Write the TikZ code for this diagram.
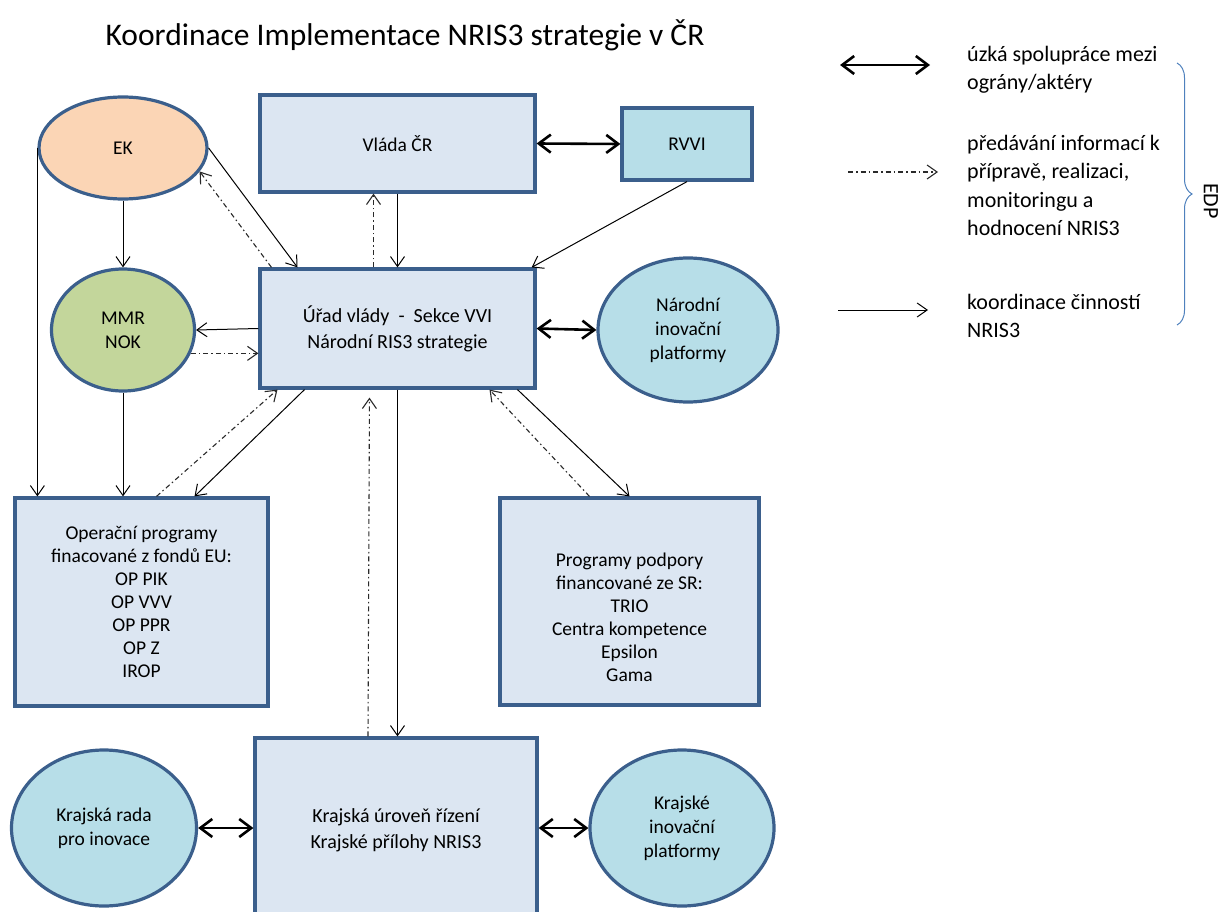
\documentclass[tikz,border=0pt]{standalone}
\usepackage{fontspec}
\setmainfont{Carlito}
\usetikzlibrary{arrows.meta,shapes.geometric,decorations.pathreplacing}
\definecolor{shapeline}{HTML}{3B5F8C}
\definecolor{boxfill}{HTML}{DCE6F2}
\definecolor{aquafill}{HTML}{B7DEE8}
\definecolor{ekfill}{HTML}{FBD5B5}
\definecolor{mmrfill}{HTML}{C3D69B}
\definecolor{bracecol}{HTML}{4F81BD}
\definecolor{infoline}{HTML}{2A2A2A}

\begin{document}
\begin{tikzpicture}[
  x=1pt, y=-1pt,
  box/.style={rectangle, draw=shapeline, line width=3.2pt, fill=boxfill, align=center, inner sep=2pt, font=\fontsize{19.5}{23}\selectfont},
  oval/.style={ellipse, draw=shapeline, line width=3.2pt, fill=aquafill, align=center, inner sep=1pt, font=\fontsize{19.5}{24}\selectfont},
  legend/.style={anchor=west, align=left, inner sep=0pt, font=\fontsize{22}{28.5}\selectfont},
  koord/.style={-{Straight Barb[length=10pt,width=14pt]}, line width=1pt},
  info/.style={-{Straight Barb[length=10pt,width=14pt]}, line width=1.1pt, draw=infoline, dash pattern=on 5pt off 3pt on 1.5pt off 3pt},
  spolu/.style={{Straight Barb[length=12pt,width=18pt]}-{Straight Barb[length=12pt,width=18pt]}, line width=2.6pt}
]
\useasboundingbox (0,0) rectangle (1225,912);

\node[font=\fontsize{31.5}{36}\selectfont] (titel) at (405,35) {Koordinace Implementace NRIS3 strategie v ČR};

% national level
\node[box, minimum width=275pt, minimum height=97pt] (vlada) at (397.5,143.5) {Vláda ČR};
\node[box, fill=aquafill, minimum width=130pt, minimum height=72pt] (rvvi) at (687,144) {RVVI};
\node[box, minimum width=275pt, minimum height=119pt, font=\fontsize{20}{26}\selectfont] (urad) at (397.5,328.5) {Úřad vlády~~-~~Sekce VVI\\Národní RIS3 strategie};
\node[oval, fill=ekfill, minimum width=168pt, minimum height=102pt] (ek) at (123,148) {EK};
\node[oval, fill=mmrfill, minimum width=143pt, minimum height=122pt] (mmr) at (123,330) {MMR\\NOK};
\node[oval, minimum width=180pt, minimum height=144pt] (nip) at (688,330) {Národní\\inovační\\platformy};

% programmes
\node[box, minimum width=253pt, minimum height=208pt] (op) at (141.5,602) {Operační programy\\finacované z fondů EU:\\OP PIK\\OP VVV\\OP PPR\\OP Z\\IROP};
\node[box, minimum width=259pt, minimum height=207pt] (prog) at (629.5,601.5) {};
\node[align=center, font=\fontsize{19.5}{23}\selectfont] (progtext) at (629.5,617) {Programy podpory\\financované ze SR:\\TRIO\\Centra kompetence\\Epsilon\\Gama};

% regional level
\node[box, minimum width=282pt, minimum height=184pt, font=\fontsize{20}{26}\selectfont] (kraj) at (396,830) {Krajská úroveň řízení\\Krajské přílohy NRIS3};
\node[oval, minimum width=185pt, minimum height=156pt] (rada) at (104,828) {Krajská rada\\pro inovace};
\node[oval, minimum width=184pt, minimum height=156pt] (kip) at (682,828) {Krajské\\inovační\\platformy};

% connectors
\draw[koord] (ek.east) -- ([xshift=-100pt]urad.north);
\draw[info] ([xshift=-126pt]urad.north) -- (ek.-17);
\draw[koord] (ek.south) -- (mmr.north);
\draw[koord] (ek.west) -- (ek.west |- op.north);
\draw[koord] (vlada.south) -- (urad.north);
\draw[info] ([xshift=-24pt]urad.north) -- ([xshift=-24pt]vlada.south);
\draw[spolu] (vlada.east) -- (rvvi.west);
\draw[koord] (rvvi.south) -- ([xshift=-5pt]urad.north east);
\draw[spolu] (urad.east) -- (nip.west);
\draw[koord] (urad.west) -- (mmr.east);
\draw[info] (mmr.-19) -- (mmr.-19 -| urad.west);
\draw[koord] (mmr.south) -- (mmr.south |- op.north);
\draw[info] ([xshift=15pt]op.north) -- ([xshift=-120pt]urad.south);
\draw[koord] ([xshift=-93pt]urad.south) -- ([xshift=53pt]op.north);
\draw[koord] (urad.south) -- (urad.south |- kraj.north);
\draw[info, shorten >=8pt] ([xshift=-28pt]kraj.north) -- ([xshift=-28pt]urad.south);
\draw[koord] ([xshift=120pt]urad.south) -- (prog.north);
\draw[info] ([xshift=-40pt]prog.north) -- ([xshift=92pt]urad.south);
\draw[spolu] (rada.east) -- (rada.east -| kraj.west);
\draw[spolu] (kraj.east |- kip.west) -- (kip.west);

% legend
\coordinate (spoluA) at (840,65);
\coordinate (spoluB) at (930,65);
\coordinate (infoA) at (848,172);
\coordinate (infoB) at (938,172);
\coordinate (koordA) at (838,310);
\coordinate (koordB) at (928,310);
\draw[spolu] (spoluA) -- (spoluB);
\draw[info] (infoA) -- (infoB);
\draw[koord] (koordA) -- (koordB);
\node[legend] (legspolu) at (967,70) {úzká spolupráce mezi\\ográny/aktéry};
\node[legend] (leginfo) at (967,185.5) {předávání informací k\\přípravě, realizaci,\\monitoringu a\\hodnocení NRIS3};
\node[legend] (legkoord) at (967,316) {koordinace činností\\NRIS3};

\coordinate (braceA) at (1177,63);
\coordinate (braceB) at (1177,325);
\draw[bracecol, line width=1pt, decorate, decoration={brace, amplitude=15pt}] (braceA) -- (braceB);
\node[rotate=-90, font=\fontsize{22}{26}\selectfont] (edp) at (1211,201) {EDP};
\end{tikzpicture}
\end{document}
